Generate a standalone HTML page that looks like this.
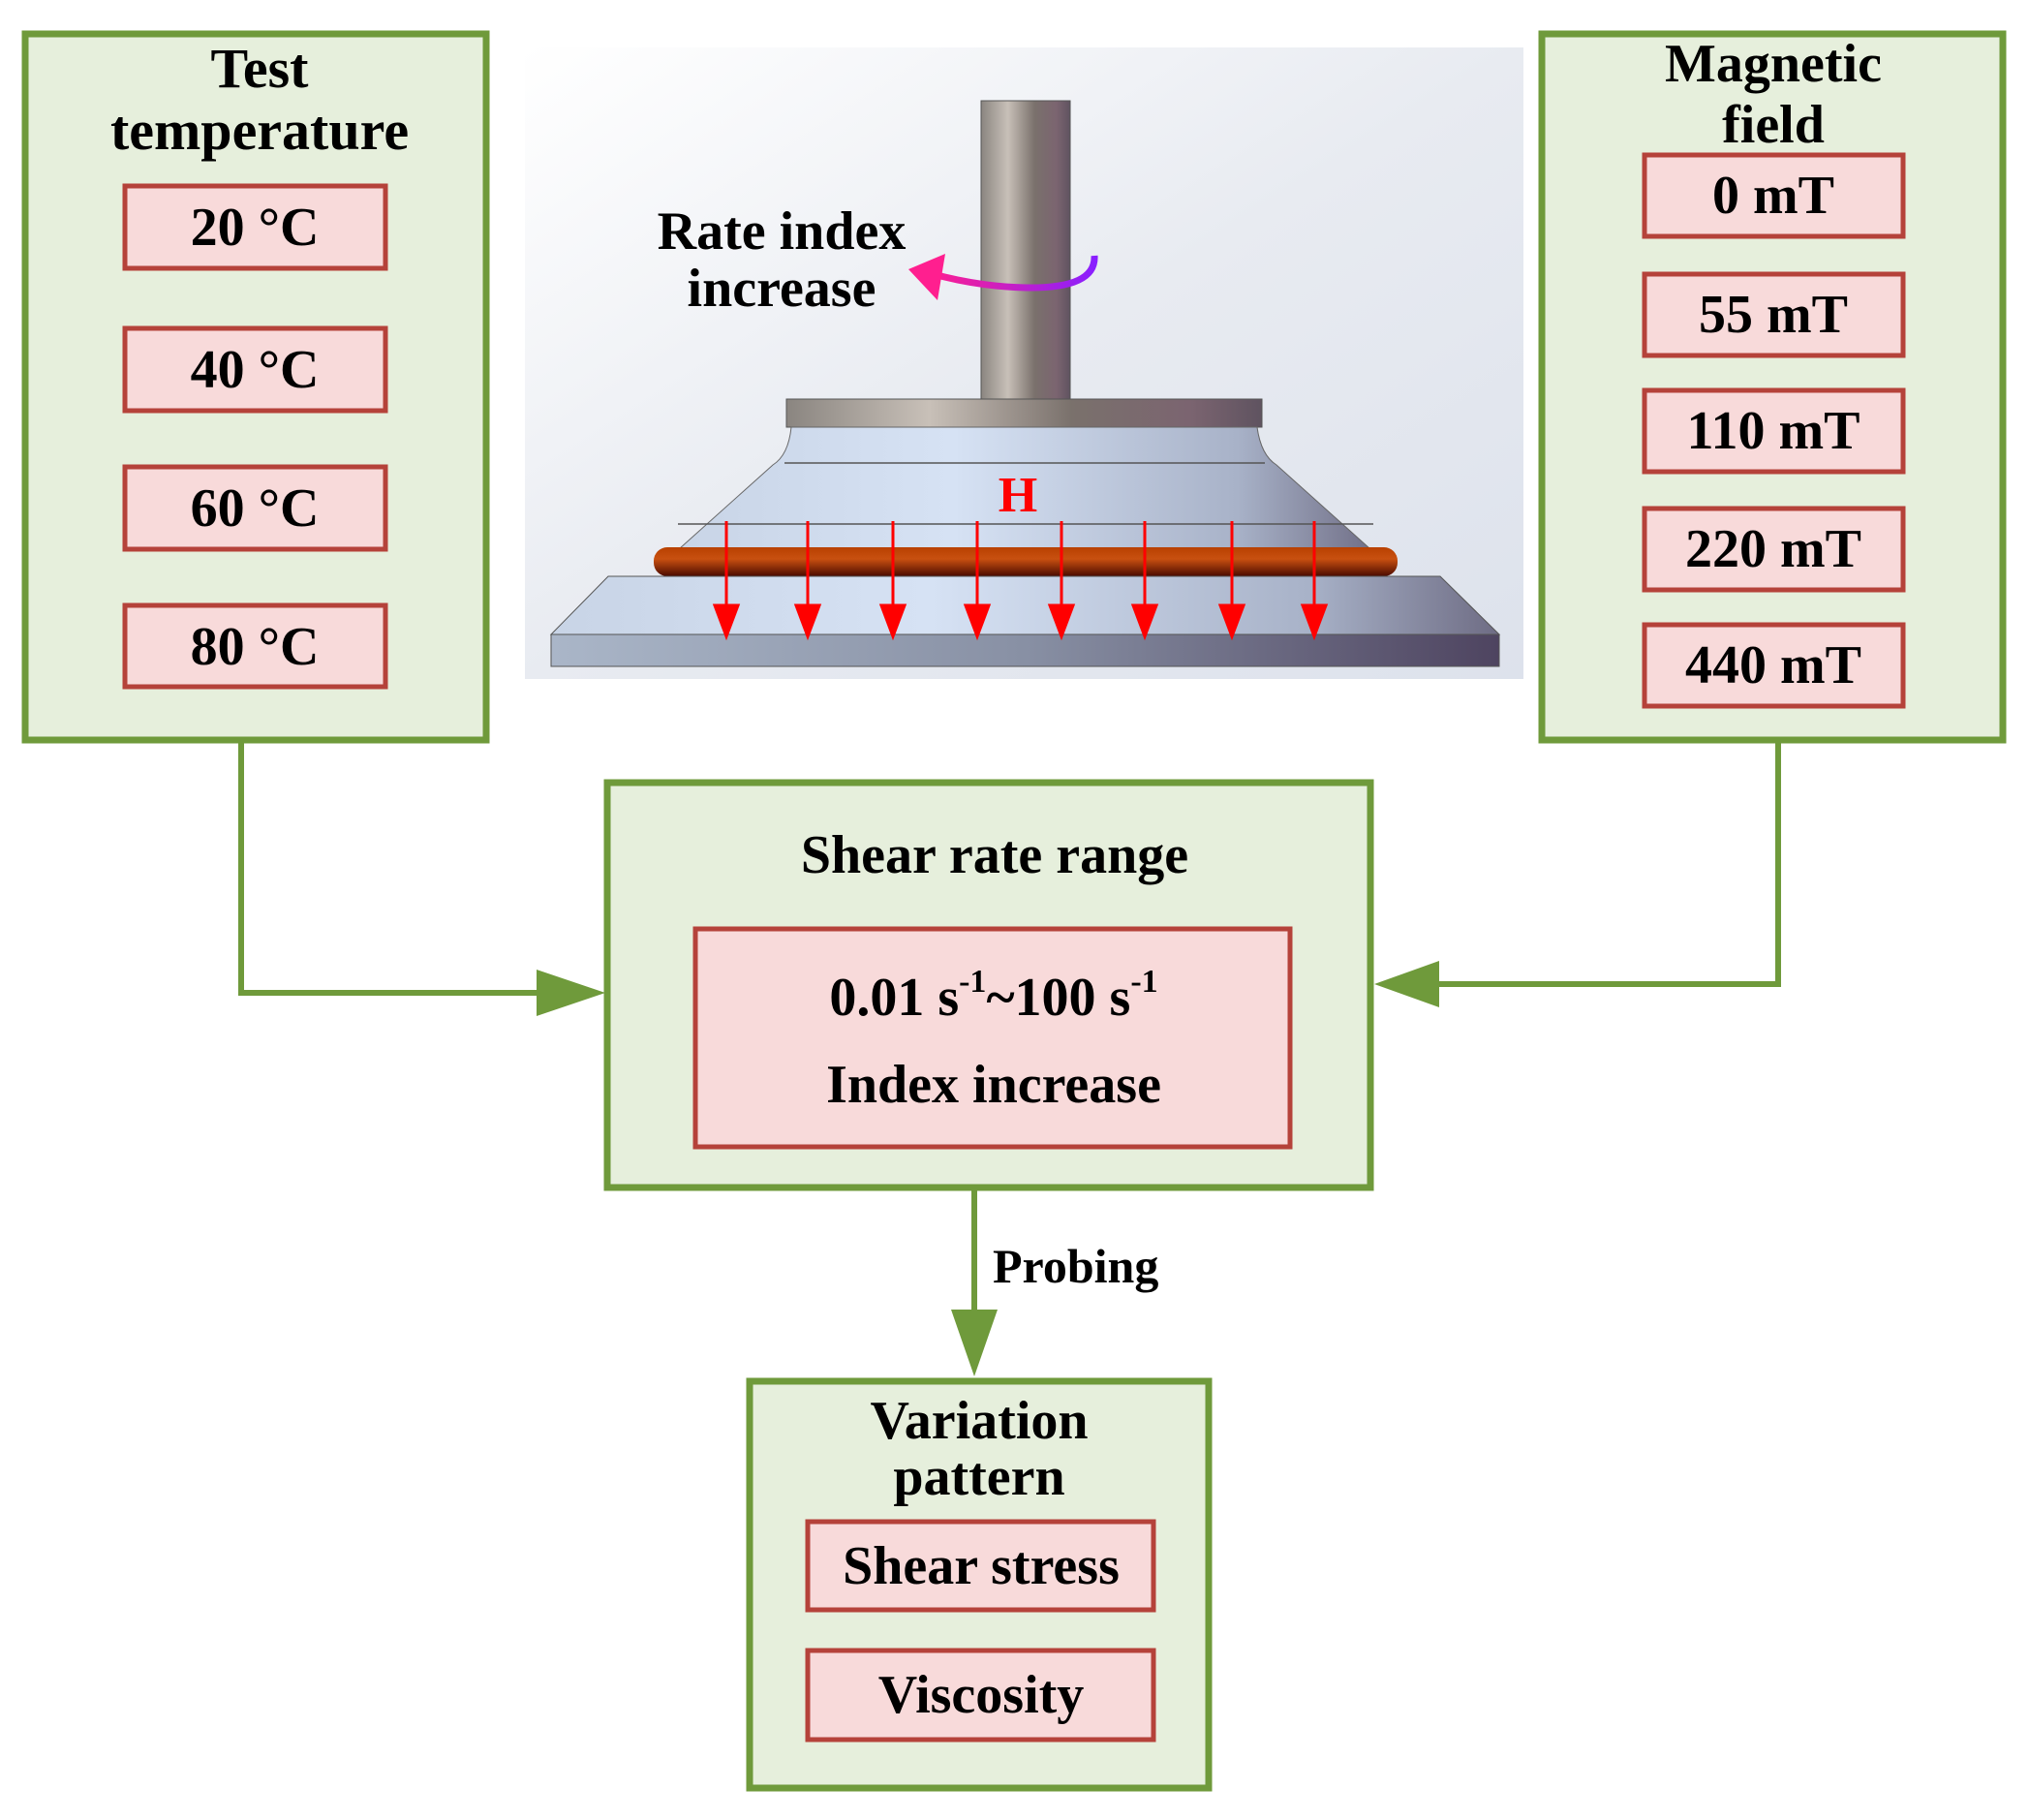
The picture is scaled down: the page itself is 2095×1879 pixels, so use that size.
<!DOCTYPE html>
<html><head><meta charset="utf-8"><style>
html,body{margin:0;padding:0;background:#fff;}
svg{display:block;}
text{font-family:"Liberation Serif",serif;font-weight:bold;fill:#000;}
</style></head><body>
<svg width="2095" height="1879" viewBox="0 0 2095 1879" xmlns="http://www.w3.org/2000/svg">
<defs>
<linearGradient id="bg" x1="0" y1="0" x2="1" y2="1">
<stop offset="0" stop-color="#ffffff"/><stop offset="0.5" stop-color="#e8ebf1"/><stop offset="1" stop-color="#dde2ec"/>
</linearGradient>
<linearGradient id="metal" x1="0" x2="1">
<stop offset="0" stop-color="#8a8580"/><stop offset="0.3" stop-color="#c8c0b8"/><stop offset="0.6" stop-color="#7a716c"/><stop offset="0.85" stop-color="#7b6470"/><stop offset="1" stop-color="#5f5360"/>
</linearGradient>
<linearGradient id="blue" x1="0" x2="1">
<stop offset="0" stop-color="#c8d4e6"/><stop offset="0.4" stop-color="#d6e2f4"/><stop offset="0.8" stop-color="#a8b2c8"/><stop offset="1" stop-color="#6e6c84"/>
</linearGradient>
<linearGradient id="slab" x1="0" x2="1">
<stop offset="0" stop-color="#aab6c8"/><stop offset="0.5" stop-color="#8890a4"/><stop offset="1" stop-color="#4e4460"/>
</linearGradient>
<linearGradient id="ring" x1="0" y1="0" x2="0" y2="1">
<stop offset="0" stop-color="#b84000"/><stop offset="0.4" stop-color="#c85010"/><stop offset="1" stop-color="#4a0a00"/>
</linearGradient>
<linearGradient id="rot" x1="0" x2="1">
<stop offset="0" stop-color="#ff1f8f"/><stop offset="1" stop-color="#8a1fff"/>
</linearGradient>
</defs>

<!-- picture -->
<rect x="542" y="49" width="1031" height="652" fill="url(#bg)"/>
<rect x="1013" y="104" width="92" height="308" fill="url(#metal)" stroke="#555" stroke-width="1"/>
<rect x="812" y="412" width="491" height="29" fill="url(#metal)" stroke="#555" stroke-width="1"/>
<path d="M817 441 L1298 441 Q1302 470 1318 480 L1424 575 L692 575 L798 480 Q814 470 817 441 Z" fill="url(#blue)" stroke="#666" stroke-width="1"/>
<line x1="810" y1="478" x2="1306" y2="478" stroke="#555" stroke-width="1.5"/>
<line x1="700" y1="541" x2="1418" y2="541" stroke="#555" stroke-width="1.5"/>
<rect x="675" y="565" width="768" height="30" rx="14" fill="url(#ring)"/>
<path d="M628 595 L1487 595 L1548 655 L569 655 Z" fill="url(#blue)" stroke="#555" stroke-width="1"/>
<rect x="569" y="655" width="979" height="33" fill="url(#slab)" stroke="#555" stroke-width="1"/>
<g stroke="#ff0000" stroke-width="3" fill="#ff0000">
<line x1="750" y1="538" x2="750" y2="630"/><polygon points="738,625 762,625 750,657"/>
<line x1="834" y1="538" x2="834" y2="630"/><polygon points="822,625 846,625 834,657"/>
<line x1="922" y1="538" x2="922" y2="630"/><polygon points="910,625 934,625 922,657"/>
<line x1="1009" y1="538" x2="1009" y2="630"/><polygon points="997,625 1021,625 1009,657"/>
<line x1="1096" y1="538" x2="1096" y2="630"/><polygon points="1084,625 1108,625 1096,657"/>
<line x1="1182" y1="538" x2="1182" y2="630"/><polygon points="1170,625 1194,625 1182,657"/>
<line x1="1272" y1="538" x2="1272" y2="630"/><polygon points="1260,625 1284,625 1272,657"/>
<line x1="1357" y1="538" x2="1357" y2="630"/><polygon points="1345,625 1369,625 1357,657"/>
</g>
<text x="1051" y="528" font-size="52" text-anchor="middle" style="fill:#ff0000">H</text>
<path d="M1130 264 Q1132 298 1060 297 Q1010 296 960 282" fill="none" stroke="url(#rot)" stroke-width="7"/>
<polygon points="938,278 976,262 968,310" fill="#ff1f8f"/>
<text x="807" y="257" font-size="56" text-anchor="middle">Rate index</text>
<text x="807" y="316" font-size="56" text-anchor="middle">increase</text>

<!-- connectors -->
<g stroke="#6f9a3b" stroke-width="6" fill="none">
<polyline points="249,764 249,1025 560,1025"/>
<polyline points="1836,764 1836,1016 1480,1016"/>
<line x1="1006" y1="1229" x2="1006" y2="1360"/>
</g>
<g fill="#6f9a3b">
<polygon points="554,1001 625,1025 554,1049"/>
<polygon points="1486,992 1419,1016 1486,1040"/>
<polygon points="982,1352 1030,1352 1006,1421"/>
</g>
<text x="1025" y="1324" font-size="50">Probing</text>

<!-- left box -->
<rect x="26" y="35" width="476" height="729" fill="#e6efdc" stroke="#6f9a3b" stroke-width="7"/>
<text x="268" y="90" font-size="58" text-anchor="middle">Test</text>
<text x="268" y="154" font-size="58" text-anchor="middle">temperature</text>
<g fill="#f8dada" stroke="#b5423a" stroke-width="5">
<rect x="129" y="192" width="269" height="85"/>
<rect x="129" y="339" width="269" height="85"/>
<rect x="129" y="482" width="269" height="85"/>
<rect x="129" y="625" width="269" height="84"/>
</g>
<g font-size="56" text-anchor="middle">
<text x="263" y="253">20 °C</text>
<text x="263" y="400">40 °C</text>
<text x="263" y="543">60 °C</text>
<text x="263" y="686">80 °C</text>
</g>

<!-- right box -->
<rect x="1592" y="35" width="476" height="729" fill="#e6efdc" stroke="#6f9a3b" stroke-width="7"/>
<text x="1831" y="84" font-size="56" text-anchor="middle">Magnetic</text>
<text x="1831" y="147" font-size="56" text-anchor="middle">field</text>
<g fill="#f8dada" stroke="#b5423a" stroke-width="5">
<rect x="1698" y="160" width="267" height="84"/>
<rect x="1698" y="283" width="267" height="84"/>
<rect x="1698" y="403" width="267" height="84"/>
<rect x="1698" y="525" width="267" height="84"/>
<rect x="1698" y="645" width="267" height="84"/>
</g>
<g font-size="56" text-anchor="middle">
<text x="1831" y="220">0 mT</text>
<text x="1831" y="343">55 mT</text>
<text x="1831" y="463">110 mT</text>
<text x="1831" y="585">220 mT</text>
<text x="1831" y="705">440 mT</text>
</g>

<!-- center box -->
<rect x="627" y="808" width="788" height="418" fill="#e6efdc" stroke="#6f9a3b" stroke-width="7"/>
<text x="1027" y="901" font-size="56" text-anchor="middle">Shear rate range</text>
<rect x="718" y="959" width="614" height="225" fill="#f8dada" stroke="#b5423a" stroke-width="5"/>
<text x="1026" y="1048" font-size="56" text-anchor="middle">0.01 s<tspan font-size="34" dy="-24">-1</tspan><tspan dy="24">~100 s</tspan><tspan font-size="34" dy="-24">-1</tspan></text>
<text x="1026" y="1138" font-size="56" text-anchor="middle">Index increase</text>

<!-- bottom box -->
<rect x="774" y="1426" width="474" height="420" fill="#e6efdc" stroke="#6f9a3b" stroke-width="7"/>
<text x="1011" y="1485" font-size="56" text-anchor="middle">Variation</text>
<text x="1011" y="1543" font-size="56" text-anchor="middle">pattern</text>
<g fill="#f8dada" stroke="#b5423a" stroke-width="5">
<rect x="834" y="1571" width="357" height="91"/>
<rect x="834" y="1704" width="357" height="92"/>
</g>
<text x="1013" y="1635" font-size="56" text-anchor="middle">Shear stress</text>
<text x="1013" y="1768" font-size="56" text-anchor="middle">Viscosity</text>
</svg>
</body></html>
